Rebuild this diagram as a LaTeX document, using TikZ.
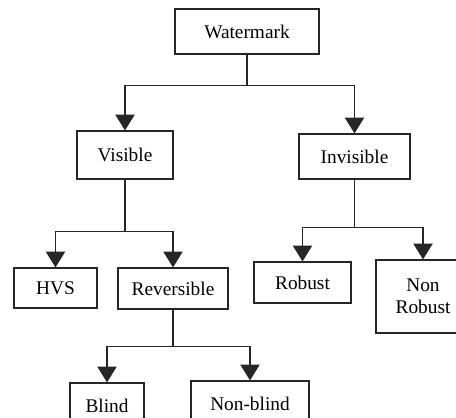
\documentclass[tikz,border=0pt]{standalone}
\usepackage{fontspec}
\setmainfont{Liberation Serif}
\usetikzlibrary{arrows.meta}

\begin{document}
\begin{tikzpicture}[x=0.02cm, y=-0.02cm,
  box/.style={rectangle, draw=black!85, line width=0.7pt, inner sep=0pt,
              font=\fontsize{11}{12.5}\selectfont, align=center},
  conn/.style={-{Triangle[width=11pt,length=9pt]}, line width=0.7pt, draw=black!85}
]
\useasboundingbox (0,0) rectangle (456,417);
\clip (0,0) rectangle (456,417);

% top level
\node[box, minimum width=144*0.02cm, minimum height=45*0.02cm] (wm) at (247,31.5) {Watermark};

% second level
\node[box, minimum width=96*0.02cm, minimum height=48*0.02cm] (vis) at (125,155) {Visible};
\node[box, minimum width=111*0.02cm, minimum height=45*0.02cm] (inv) at (354.5,156.5) {Invisible};

% third level
\node[box, minimum width=83*0.02cm, minimum height=40*0.02cm] (hvs) at (55.5,288) {HVS};
\node[box, minimum width=110*0.02cm, minimum height=41*0.02cm] (rev) at (173,288.5) {Reversible};
\node[box, minimum width=97*0.02cm, minimum height=41*0.02cm] (rob) at (302.5,282.5) {Robust};
\node[box, minimum width=94*0.02cm, minimum height=73*0.02cm] (nrob) at (423,296.5) {Non\\Robust};

% fourth level
\node[box, minimum width=74*0.02cm, minimum height=45*0.02cm] (blind) at (107,405.5) {Blind};
\node[box, minimum width=118*0.02cm, minimum height=45*0.02cm] (nblind) at (250,403.5) {Non-blind};

% connectors
\draw[conn] (wm.south) -- ++(0,31) -| (vis.north);
\draw[conn] (wm.south) -- ++(0,31) -| (inv.north);
\draw[conn] (vis.south) -- ++(0,52) -| (hvs.north);
\draw[conn] (vis.south) -- ++(0,52) -| (rev.north);
\draw[conn] (inv.south) -- ++(0,48) -| (rob.north);
\draw[conn] (inv.south) -- ++(0,48) -| (nrob.north);
\draw[conn] (rev.south) -- ++(0,37) -| (blind.north);
\draw[conn] (rev.south) -- ++(0,37) -| (nblind.north);
\end{tikzpicture}
\end{document}
